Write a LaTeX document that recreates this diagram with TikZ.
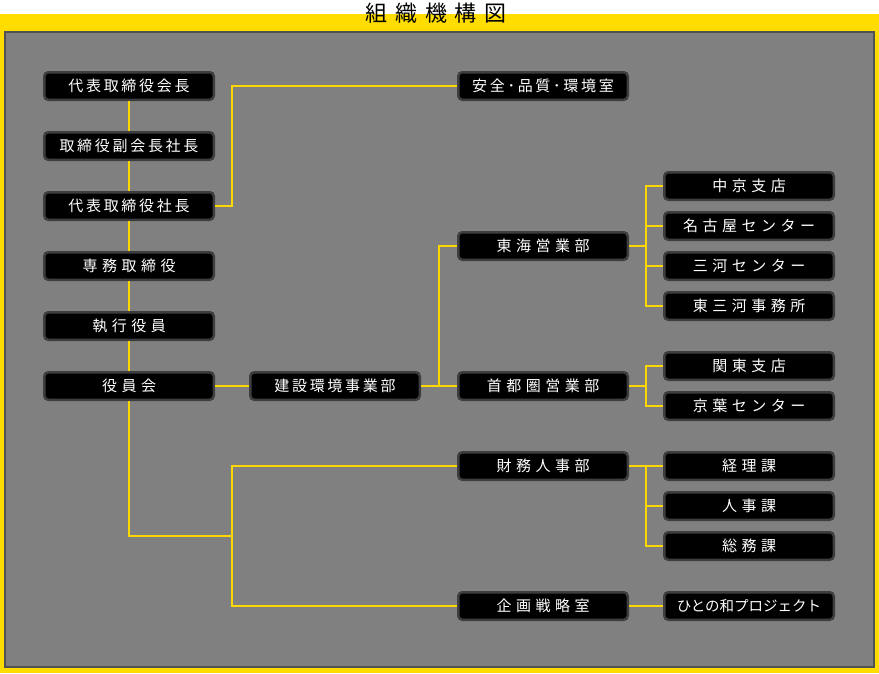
\documentclass[tikz,border=0pt]{standalone}
\usepackage{fontspec}
\setmainfont{Noto Sans CJK JP}
\newfontfamily\unitfont[LetterSpace=30]{Noto Sans CJK JP}
\newfontfamily\tightfont[LetterSpace=18]{Noto Sans CJK JP}
\newfontfamily\plainfont{Noto Sans CJK JP}
\newfontfamily\titlefont[LetterSpace=36]{Noto Sans CJK JP}
\definecolor{band}{RGB}{255,221,0}
\definecolor{wire}{RGB}{255,215,0}
\definecolor{panel}{RGB}{128,128,128}
\definecolor{rim}{RGB}{62,62,62}
\tikzset{
  unit/.style={rectangle,rounded corners=4pt,fill=black,draw=rim,line width=2.5pt,
    minimum width=169.5pt,minimum height=27.5pt,inner sep=0pt,text=white,
    font=\unitfont\fontsize{15}{15}\selectfont},
  tight/.style={unit,font=\tightfont\fontsize{15}{15}\selectfont},
  link/.style={wire,line width=2pt}
}
\begin{document}
\begin{tikzpicture}[x=1pt,y=-1pt]
  \useasboundingbox (0,0) rectangle (879,673);
  \fill[band] (0,14) rectangle (879,673);
  \filldraw[fill=panel,draw=rim!90,line width=2pt] (5,32) rectangle (874,667);
  \node[font=\titlefont\fontsize{22}{22}\selectfont](title) at (436,13) {組織機構図};
  % executives
  \node[tight](kaicho) at (129,86) {代表取締役会長};
  \node[tight](fukukaicho) at (129,146) {取締役副会長社長};
  \node[tight](shacho) at (129,206) {代表取締役社長};
  \node[unit](senmu) at (129,266) {専務取締役};
  \node[unit](shikko) at (129,326) {執行役員};
  \node[unit](yakuinkai) at (129,386) {役員会};
  \node[tight](kensetsu) at (335,386) {建設環境事業部};
  % departments
  \node[tight](anzen) at (543,86) {安全･品質･環境室};
  \node[unit](tokai) at (543,246) {東海営業部};
  \node[unit](shuto) at (543,386) {首都圏営業部};
  \node[unit](zaimu) at (543,466) {財務人事部};
  \node[unit](kikaku) at (543,606) {企画戦略室};
  % sections
  \foreach \n/\y/\t in {chukyo/186/中京支店, nagoya/226/名古屋センター, mikawa/266/三河センター,
      higashi/306/東三河事務所, kanto/366/関東支店, keiyo/406/京葉センター,
      keiri/466/経理課, jinji/506/人事課, somu/546/総務課}
    \node[unit](\n) at (749,\y) {\t};
  \node[unit,font=\plainfont\fontsize{14.5}{15}\selectfont](hitonowa) at (749,606) {ひとの和プロジェクト};
  % connectors
  \coordinate (jshacho) at (232,206);
  \coordinate (jboard) at (232,536);
  \coordinate (jkensetsu) at (439,386);
  \coordinate (jtokai) at (646,246);
  \coordinate (jshuto) at (646,386);
  \coordinate (jzaimu) at (646,466);
  \draw[link] (kaicho.south)--(fukukaicho.north) (fukukaicho.south)--(shacho.north)
    (shacho.south)--(senmu.north) (senmu.south)--(shikko.north) (shikko.south)--(yakuinkai.north);
  \draw[link] (shacho.east)--(jshacho) |- (anzen.west);
  \draw[link] (yakuinkai.south) |- (jboard);
  \draw[link] (zaimu.west) -| (jboard) |- (kikaku.west);
  \draw[link] (yakuinkai.east)--(kensetsu.west);
  \draw[link] (kensetsu.east)--(shuto.west);
  \draw[link] (jkensetsu) |- (tokai.west);
  \draw[link] (tokai.east)--(jtokai);
  \foreach \n in {chukyo,nagoya,mikawa,higashi} \draw[link] (jtokai) |- (\n.west);
  \draw[link] (shuto.east)--(jshuto);
  \foreach \n in {kanto,keiyo} \draw[link] (jshuto) |- (\n.west);
  \draw[link] (zaimu.east)--(keiri.west);
  \foreach \n in {jinji,somu} \draw[link] (jzaimu) |- (\n.west);
  \draw[link] (kikaku.east)--(hitonowa.west);
\end{tikzpicture}
\end{document}
